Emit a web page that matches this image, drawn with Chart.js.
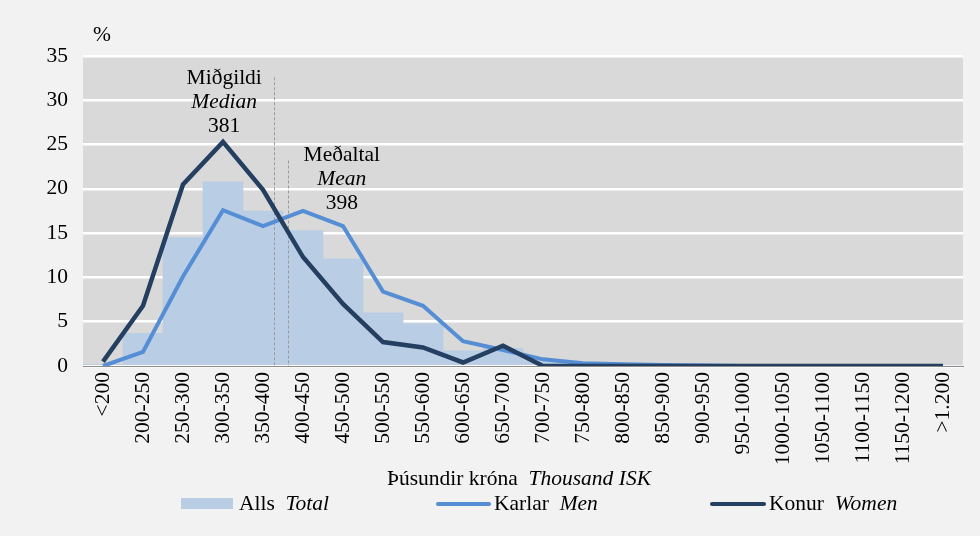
<!DOCTYPE html>
<html>
<head>
<meta charset="utf-8">
<script src="https://cdn.jsdelivr.net/npm/chart.js@4/dist/chart.umd.min.js"></script>
<style>
  html, body { margin: 0; padding: 0; background: #f2f2f2; }
  #wrap { width: 980px; height: 536px; }
</style>
</head>
<body>
<div id="wrap"><canvas id="wageChart" width="980" height="536"></canvas></div>
<script>
// Launabil, þúsundir króna
const categories = ['<200', '200-250', '250-300', '300-350', '350-400', '400-450', '450-500',
  '500-550', '550-600', '600-650', '650-700', '700-750', '750-800', '800-850', '850-900',
  '900-950', '950-1000', '1000-1050', '1050-1100', '1100-1150', '1150-1200', '>1.200'];

const totalValues = [0.2, 3.7, 14.5, 20.8, 17.5, 15.3, 12.1, 6.0, 4.8, 1.7, 2.0, 0.6,
  0.2, 0.1, 0.05, 0, 0, 0, 0, 0, 0, 0];
const menValues = [0, 1.6, 10.1, 17.6, 15.8, 17.5, 15.8, 8.4, 6.8, 2.8, 1.8, 0.75,
  0.3, 0.2, 0.1, 0.05, 0, 0, 0, 0, 0, 0];
const womenValues = [0.5, 6.8, 20.5, 25.3, 19.9, 12.3, 7.0, 2.7, 2.1, 0.4, 2.3, 0,
  0, 0, 0, 0, 0, 0, 0, 0, 0, 0];

const yTicks = [0, 5, 10, 15, 20, 25, 30, 35];

// miðgildi og meðaltal (staða á flokkaás)
const medianLabel = ['Miðgildi', 'Median', '381'];
const meanLabel = ['Meðaltal', 'Mean', '398'];
const medianPos = 4.28;
const meanPos = 4.63;

const FONT = "'Liberation Serif', 'Times New Roman', serif";
const FS = 21.5;

const bgPlugin = {
  id: 'plotBg',
  beforeDraw(chart) {
    const { ctx, chartArea: a } = chart;
    ctx.save();
    ctx.fillStyle = '#f2f2f2';
    ctx.fillRect(0, 0, chart.width, chart.height);
    ctx.fillStyle = '#d9d9d9';
    ctx.fillRect(a.left, a.top, a.right - a.left, a.bottom - a.top);
    ctx.restore();
  },
  afterDatasetDraw(chart, args) {
    if (args.index !== 0) return;
    const { ctx, chartArea: a, scales } = chart;
    ctx.save();
    ctx.strokeStyle = '#9a9a9a';
    ctx.lineWidth = 1;
    ctx.setLineDash([3, 2]);
    [[medianPos, 32.6], [meanPos, 23.2]].forEach(([p, top]) => {
      const x = Math.round(scales.x.getPixelForValue(p)) + 0.5;
      ctx.beginPath();
      ctx.moveTo(x, scales.y.getPixelForValue(top));
      ctx.lineTo(x, a.bottom);
      ctx.stroke();
    });
    ctx.restore();
  }
};

function drawParts(ctx, parts, x, y) {
  parts.forEach(([t, it]) => {
    ctx.font = (it ? 'italic ' : '') + FS + 'px ' + FONT;
    ctx.fillText(t, x, y);
    x += ctx.measureText(t).width;
  });
}

function partsWidth(ctx, parts) {
  let w = 0;
  parts.forEach(([t, it]) => {
    ctx.font = (it ? 'italic ' : '') + FS + 'px ' + FONT;
    w += ctx.measureText(t).width;
  });
  return w;
}

const textPlugin = {
  id: 'texts',
  afterDraw(chart) {
    const { ctx, scales } = chart;
    ctx.save();
    ctx.fillStyle = '#000';
    ctx.textBaseline = 'middle';
    ctx.textAlign = 'center';

    // annotations
    const blocks = [[medianLabel, 3.03, 78], [meanLabel, 5.97, 155]];
    blocks.forEach(([lines, pos, y0]) => {
      const x = scales.x.getPixelForValue(pos);
      lines.forEach((t, i) => {
        ctx.font = (i === 1 ? 'italic ' : '') + FS + 'px ' + FONT;
        ctx.fillText(t, x, y0 + i * 24);
      });
    });

    // % label
    ctx.font = FS + 'px ' + FONT;
    ctx.fillText('%', 102, 35);

    // x axis title
    ctx.textAlign = 'left';
    const title = [['Þúsundir króna  ', false], ['Thousand ISK', true]];
    drawParts(ctx, title, 519 - partsWidth(ctx, title) / 2, 479);

    // legend
    const y = 504;
    ctx.fillStyle = '#b9cde5';
    ctx.fillRect(181, 498, 52, 11);
    ctx.lineWidth = 4;
    ctx.lineCap = 'round';
    ctx.strokeStyle = '#558ed5';
    ctx.beginPath(); ctx.moveTo(438, y); ctx.lineTo(489, y); ctx.stroke();
    ctx.strokeStyle = '#243f60';
    ctx.beginPath(); ctx.moveTo(712, y); ctx.lineTo(764, y); ctx.stroke();
    ctx.fillStyle = '#000';
    drawParts(ctx, [['Alls  ', false], ['Total', true]], 239, y);
    drawParts(ctx, [['Karlar  ', false], ['Men', true]], 494, y);
    drawParts(ctx, [['Konur  ', false], ['Women', true]], 769, y);
    ctx.restore();
  }
};

new Chart(document.getElementById('wageChart'), {
  data: {
    labels: categories,
    datasets: [
      {
        type: 'bar',
        label: 'Alls Total',
        data: totalValues,
        backgroundColor: '#b9cde5',
        categoryPercentage: 1,
        barPercentage: 1,
        order: 3
      },
      {
        type: 'line',
        label: 'Karlar Men',
        data: menValues,
        borderColor: '#558ed5',
        borderWidth: 4,
        pointRadius: 0,
        tension: 0,
        order: 2
      },
      {
        type: 'line',
        label: 'Konur Women',
        data: womenValues,
        borderColor: '#243f60',
        borderWidth: 4.5,
        pointRadius: 0,
        tension: 0,
        order: 1
      }
    ]
  },
  options: {
    responsive: false,
    animation: false,
    layout: { padding: { top: 56, right: 17, left: 0, bottom: 0 } },
    plugins: {
      legend: { display: false },
      tooltip: { enabled: false }
    },
    scales: {
      x: {
        grid: { display: false },
        border: { display: true, color: '#8c8c8c', width: 1 },
        ticks: {
          color: '#000',
          font: { family: FONT, size: FS },
          minRotation: 90,
          maxRotation: 90,
          autoSkip: false,
          padding: -2
        },
        afterFit(scale) { scale.height = 170; }
      },
      y: {
        min: 0,
        max: 35,
        afterBuildTicks(scale) { scale.ticks = yTicks.map(v => ({ value: v })); },
        grid: { color: '#ffffff', lineWidth: 2.5, drawTicks: false },
        border: { display: false },
        ticks: {
          color: '#000',
          font: { family: FONT, size: FS },
          padding: 15
        },
        afterFit(scale) { scale.width = 83; }
      }
    }
  },
  plugins: [bgPlugin, textPlugin]
});
</script>
</body>
</html>
